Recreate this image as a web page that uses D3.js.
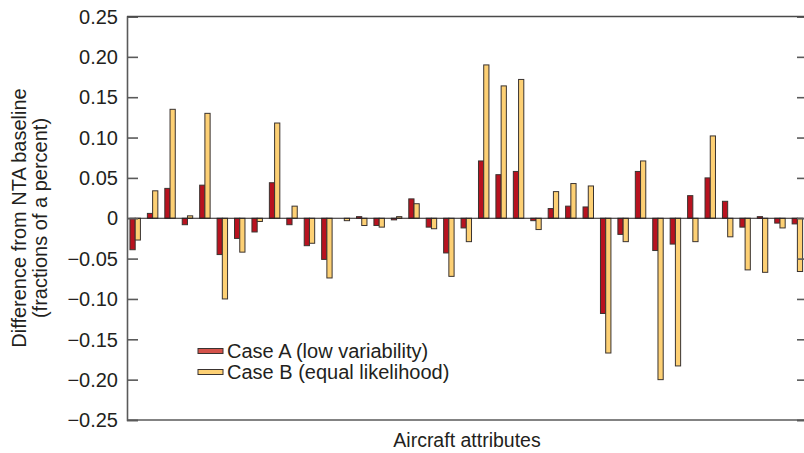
<!DOCTYPE html>
<html>
<head>
<meta charset="utf-8">
<script src="https://cdn.jsdelivr.net/npm/d3@7"></script>
<style>
    body { margin: 0; background: #ffffff; }
    svg text { font-family: "Liberation Sans", Arial, Helvetica, sans-serif; fill: #231f20; }
</style>
</head>
<body>
<svg id="chart" width="804" height="453"></svg>
<script>
// one entry per aircraft attribute (the last pair is cut by the picture edge)
var attributes = d3.range(1, 41).map(function (i) { return "A" + i; });
var seriesNames = ["Case A (low variability)", "Case B (equal likelihood)"];
var caseA = [-0.039, 0.006, 0.037, -0.008, 0.041, -0.045, -0.025, -0.017, 0.044, -0.008,
    -0.034, -0.051, 0.000, 0.002, -0.009, -0.002, 0.024, -0.011, -0.043, -0.012,
    0.071, 0.054, 0.058, -0.003, 0.012, 0.015, 0.014, -0.118, -0.020, 0.058,
    -0.040, -0.032, 0.028, 0.050, 0.021, -0.011, 0.002, -0.006, -0.007, -0.050];
var caseB = [-0.027, 0.034, 0.135, 0.003, 0.130, -0.100, -0.042, -0.004, 0.118, 0.015,
    -0.031, -0.074, -0.003, -0.009, -0.011, 0.002, 0.018, -0.013, -0.072, -0.029,
    0.190, 0.164, 0.172, -0.014, 0.033, 0.043, 0.040, -0.167, -0.029, 0.071,
    -0.200, -0.183, -0.029, 0.102, -0.023, -0.064, -0.067, -0.012, -0.066, -0.030];
var yTicks = [0.25, 0.20, 0.15, 0.10, 0.05, 0, -0.05, -0.10, -0.15, -0.20, -0.25];
var colors = ["#b8121f", "#fdd074"];

var svg = d3.select("#chart");
var plotLeft = 127, plotRight = 808, plotTop = 16.5, plotBottom = 420;

var x = d3.scaleBand()
    .domain(attributes)
    .range([plotLeft, 823])
    .paddingInner(0.4)
    .paddingOuter(0.17);

var xSub = d3.scaleBand()
    .domain([0, 1])
    .range([0, x.bandwidth()]);

var y = d3.scaleLinear()
    .domain([-0.25, 0.25])
    .range([plotBottom, plotTop]);

function tickFormat(d) {
    if (d === 0) return "0";
    return (d < 0 ? "\u2212" : "") + d3.format(".2f")(Math.abs(d));
}

// bars
var barGroup = svg.append("g");
[caseA, caseB].forEach(function (values, s) {
    barGroup.selectAll(".bar" + s)
        .data(values)
        .enter().append("rect")
        .attr("x", function (d, i) { return x(attributes[i]) + xSub(s); })
        .attr("y", function (d) { return y(Math.max(0, d)); })
        .attr("width", xSub.bandwidth())
        .attr("height", function (d) { return Math.abs(y(d) - y(0)); })
        .attr("fill", colors[s])
        .attr("stroke", "#3a3330")
        .attr("stroke-width", 1);
});

// zero line
svg.append("line")
    .attr("x1", plotLeft).attr("x2", plotRight)
    .attr("y1", y(0)).attr("y2", y(0))
    .attr("stroke", "#231f20")
    .attr("stroke-width", 1);

// frame with inward ticks
var leftAxis = svg.append("g")
    .attr("transform", "translate(" + plotLeft + ",0)")
    .call(d3.axisRight(y).tickValues(yTicks).tickSize(11).tickFormat(""));
var rightAxis = svg.append("g")
    .attr("transform", "translate(" + plotRight + ",0)")
    .call(d3.axisLeft(y).tickValues(yTicks).tickSize(11).tickFormat(""));
[leftAxis, rightAxis].forEach(function (a) {
    a.select(".domain").attr("stroke", "#5a5a5a").attr("stroke-width", 1.6);
    a.selectAll(".tick line").attr("stroke", "#5a5a5a").attr("stroke-width", 1.6);
});

svg.append("line")
    .attr("x1", plotLeft).attr("x2", plotRight)
    .attr("y1", plotTop).attr("y2", plotTop)
    .attr("stroke", "#4a4a4a").attr("stroke-width", 1.6);
svg.append("line")
    .attr("x1", plotLeft).attr("x2", plotRight)
    .attr("y1", plotBottom).attr("y2", plotBottom)
    .attr("stroke", "#5a5a5a").attr("stroke-width", 1.6);

// tick labels
svg.append("g").selectAll("text")
    .data(yTicks)
    .enter().append("text")
    .attr("x", 118)
    .attr("y", function (d) { return y(d); })
    .attr("dy", "0.36em")
    .attr("text-anchor", "end")
    .style("font-size", "20px")
    .text(tickFormat);

// axis titles
var yTitle = svg.append("text")
    .attr("transform", "translate(26,218) rotate(-90)")
    .attr("text-anchor", "middle")
    .style("font-size", "20px");
yTitle.append("tspan").attr("x", 0).attr("dy", 0).text("Difference from NTA baseline");
yTitle.append("tspan").attr("x", 0).attr("dy", 21).text("(fractions of a percent)");

svg.append("text")
    .attr("x", 467)
    .attr("y", 447)
    .attr("text-anchor", "middle")
    .style("font-size", "19.5px")
    .text("Aircraft attributes");

// legend
var legend = svg.append("g").selectAll("g")
    .data(seriesNames)
    .enter().append("g")
    .attr("transform", function (d, i) { return "translate(198," + (351 + i * 21) + ")"; });
legend.append("rect")
    .attr("x", 0).attr("y", -2.5)
    .attr("width", 25).attr("height", 5)
    .attr("fill", function (d, i) { return i === 0 ? "#d4524a" : colors[1]; })
    .attr("stroke", "#3a3330").attr("stroke-width", 1);
legend.append("text")
    .attr("x", 29)
    .attr("dy", "0.36em")
    .style("font-size", "20px")
    .text(function (d) { return d; });
</script>
</body>
</html>
